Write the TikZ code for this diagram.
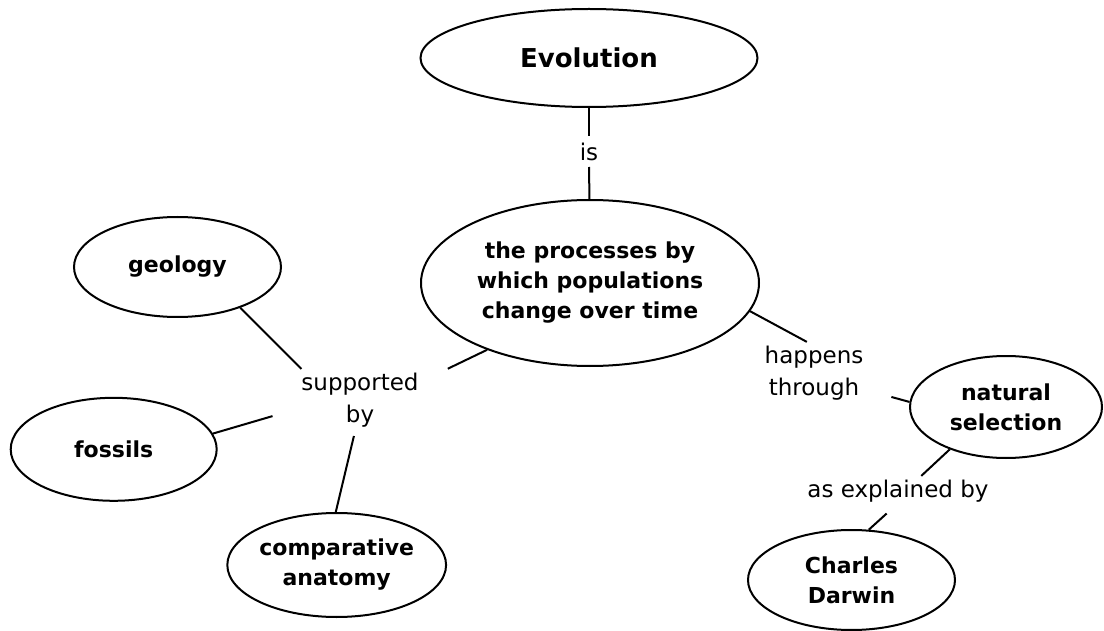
\documentclass[tikz,border=0pt]{standalone}
\usepackage{fontspec}
\setmainfont{DejaVu Sans}
\usetikzlibrary{shapes.geometric}

\tikzset{
  concept/.style={draw, ellipse, inner sep=0pt, align=center,
    font=\fontsize{22}{30}\selectfont\bfseries},
  linkword/.style={inner sep=3pt, align=center,
    font=\fontsize{23}{32}\selectfont}
}

\begin{document}
\begin{tikzpicture}[x=1pt, y=-1pt, line width=2pt]
        \useasboundingbox (0,0) rectangle (1104,631);

        % The concepts
        \node (evo) [concept, minimum width=337, minimum height=98,
          font=\fontsize{26}{30}\selectfont\bfseries] at (589,58) {Evolution};
        \node (proc) [concept, minimum width=338, minimum height=166] at (590,283)
          {the processes by\\which populations\\change over time};
        \node (geo) [concept, minimum width=207, minimum height=100] at (177.5,267) {geology};
        \node (fos) [concept, minimum width=206, minimum height=103] at (113.7,449.3) {fossils};
        \node (comp) [concept, minimum width=207, minimum height=104] at (336.7,565) {comparative\\anatomy};
        \node (nat) [concept, minimum width=192, minimum height=102] at (1006,407) {natural\\selection};
        \node (dar) [concept, minimum width=207, minimum height=100] at (851.5,580) {Charles\\Darwin};

        % The linking words
        \node (is) [linkword, inner sep=0pt, minimum height=29] at (589,151.5) {is};
        \node (supp) [linkword] at (360,400) {supported\\by};
        \node (hap) [linkword] at (814,373) {happens\\through};
        \node (expl) [linkword] at (898,491) {as explained by};

        \draw (evo) -- (is);
        \draw (is) -- (proc);
        \draw[shorten >=28pt] (proc.-147.5) -- (supp.17);
        \draw (geo.-33) -- (supp.152);
        \draw[shorten >=26pt] (fos.9) -- (supp.188);
        \draw[shorten >=5pt] (comp.91) -- (supp.-99);
        \draw (proc.-10) -- (hap.103);
        \draw[shorten >=25pt] (nat.177) -- (hap.-18);
        \draw (nat.-143) -- (expl.33);
        \draw[shorten <=11pt] (expl.-102) -- (dar.71);
    \end{tikzpicture}
\end{document}
